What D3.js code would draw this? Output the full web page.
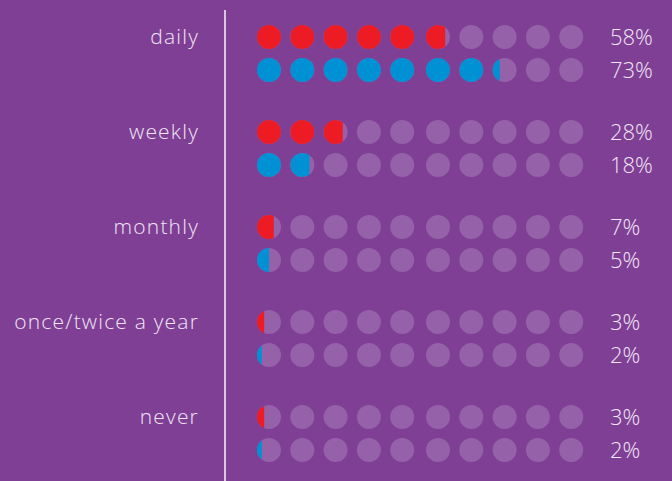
<!DOCTYPE html>
<html>
<head>
<meta charset="utf-8">
<script src="https://cdn.jsdelivr.net/npm/d3@7/dist/d3.min.js"></script>
<style>
  html, body { margin: 0; padding: 0; background: #7f3f94; }
  svg { display: block; }
  text { font-family: "Open Sans", Lato, sans-serif; font-weight: 300; fill: #f0e6f4; }
</style>
</head>
<body>
<svg id="chart" width="672" height="481"></svg>
<script>
// Frequency categories and the share of respondents for each of the two groups
const categories = ["daily", "weekly", "monthly", "once/twice a year", "never"];
const seriesRed  = [58, 28, 7, 3, 3];
const seriesBlue = [73, 18, 5, 2, 2];
const seriesNames = ["red", "blue"];
const seriesColors = ["#ed1c24", "#0090d4"];
const dotsPerRow = 10;           // each dot stands for 10%

const W = 672, H = 481;
const svg = d3.select("#chart");

svg.append("rect").attr("width", W).attr("height", H).attr("fill", "#7f3f94");

// Row positions: one band per category, two sub-rows per band
const yCat = d3.scalePoint().domain(categories).range([37, 417]);
const ySub = d3.scalePoint().domain(seriesNames).range([0, 33]);

// Dot columns, with a slightly wider gap between the two groups of five
const dotIdx = d3.range(dotsPerRow);
const xDot = d3.scaleLinear().domain([0, dotsPerRow - 1]).range([269, 568.7]);
const colX = i => xDot(i) + (i >= 5 ? 2.5 : 0);
const r = 12;

// Divider line
svg.append("line")
  .attr("x1", 225).attr("x2", 225)
  .attr("y1", 10).attr("y2", H)
  .attr("stroke", "#d9c6e2").attr("stroke-width", 2);

const rows = [];
categories.forEach((c, ci) => {
  rows.push({ cat: c, series: "red", value: seriesRed[ci], color: seriesColors[0] });
  rows.push({ cat: c, series: "blue", value: seriesBlue[ci], color: seriesColors[1] });
});

const defs = svg.append("defs");

const rowG = svg.selectAll("g.row").data(rows).join("g")
  .attr("class", "row")
  .attr("transform", d => `translate(0,${yCat(d.cat) + ySub(d.series)})`);

rowG.each(function (d, ri) {
  const g = d3.select(this);
  const units = d.value / (100 / dotsPerRow);
  dotIdx.forEach(i => {
    const cx = colX(i);
    // background dot
    g.append("circle").attr("cx", cx).attr("cy", 0).attr("r", r)
      .attr("fill", "#9562a9");
    const frac = Math.max(0, Math.min(1, units - i));
    if (frac > 0) {
      const id = `clip-${ri}-${i}`;
      defs.append("clipPath").attr("id", id)
        .append("rect")
        .attr("x", cx - r).attr("y", -r)
        .attr("width", 2 * r * frac).attr("height", 2 * r);
      g.append("circle").attr("cx", cx).attr("cy", 0).attr("r", r)
        .attr("fill", d.color)
        .attr("clip-path", `url(#${id})`);
    }
  });
  g.append("text")
    .attr("x", 610).attr("y", 8)
    .attr("font-size", 22)
    .text(d.value + "%");
});

// Category labels
svg.selectAll("text.cat").data(categories).join("text")
  .attr("class", "cat")
  .attr("x", 199)
  .attr("y", d => yCat(d) + 7)
  .attr("text-anchor", "end")
  .attr("font-size", 21)
  .attr("letter-spacing", 1.2)
  .text(d => d);
</script>
</body>
</html>
